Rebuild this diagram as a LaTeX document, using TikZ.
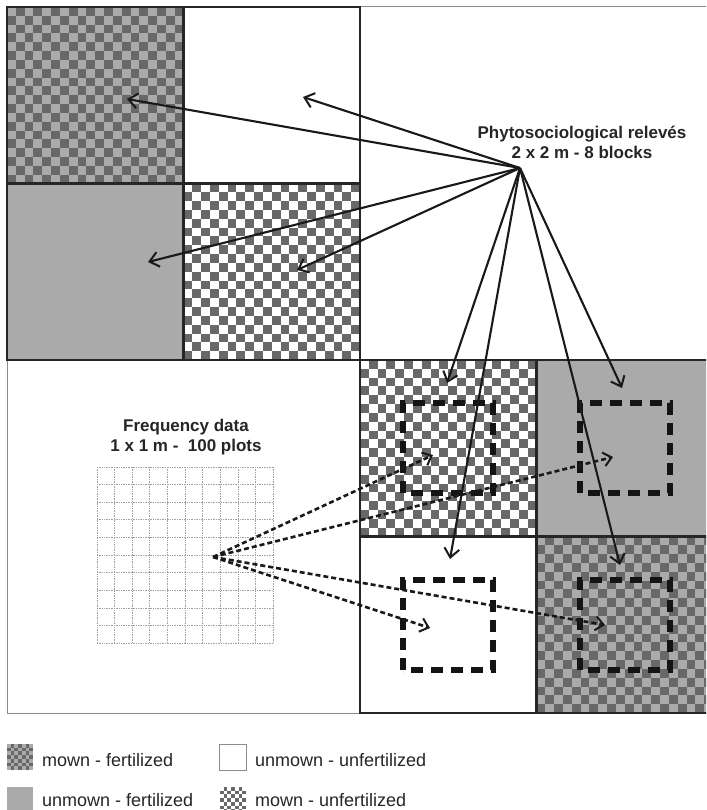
\documentclass[tikz,border=0pt]{standalone}
\usepackage{fontspec}
\setmainfont{Liberation Sans}
\usetikzlibrary{arrows.meta}
\definecolor{darkg}{HTML}{686868}
\definecolor{midg}{HTML}{AAAAAA}
\definecolor{frameg}{HTML}{8C8C8C}
\definecolor{gridg}{HTML}{A0A0A0}
\newcommand\mychk[6]{%
  \fill[#5] (#1,#2) rectangle ++(#3,#3);
  \pgfmathsetmacro\mycs{#3/#4}
  \pgfmathtruncatemacro\mynm{#4-1}
  \foreach \i in {0,...,\mynm}{\foreach \j in {0,...,\mynm}{%
    \pgfmathtruncatemacro\mycp{mod(\i+\j,2)}
    \ifnum\mycp=1 \fill[#6] ({#1+\i*\mycs},{#2+\j*\mycs}) rectangle ++(\mycs,\mycs);\fi
  }}%
}
\tikzset{
  thickline/.style={line width=2.7pt, draw=black!85},
  relarrow/.style={line width=2.1pt, draw=black!90, -{Straight Barb[length=9pt,width=15pt,line width=2pt]}},
  freqarrow/.style={line width=2.6pt, draw=black!90, dash pattern=on 5pt off 3pt, -{Straight Barb[length=8pt,width=14pt,line width=2pt]}},
  sq/.style={line width=5.5pt, draw=black!92, dash pattern=on 12pt off 8pt},
  gridline/.style={line width=1pt, draw=gridg, dash pattern=on 1pt off 0.7pt},
  boldtxt/.style={font=\fontsize{17}{20}\selectfont\bfseries, text=black!85, align=center, inner sep=0pt},
  legtxt/.style={font=\fontsize{18}{21}\selectfont, text=black!85, inner sep=0pt, anchor=base west}
}
\begin{document}
\begin{tikzpicture}[x=1pt,y=-1pt]
\useasboundingbox (0,0) rectangle (706,810);
\fill[white] (0,0) rectangle (706,810);
\begin{scope}
\clip (0,0) rectangle (706,810);
% top-left quadrant
\mychk{7}{7}{176.5}{20}{midg}{darkg}
\fill[midg] (7,183.5) rectangle (183.5,360);
\mychk{183.5}{183.5}{176.5}{20}{white}{darkg}
% bottom-right quadrant
\mychk{360}{360}{176.5}{20}{white}{darkg}
\fill[midg] (536.5,360) rectangle (713,536.5);
\mychk{536.5}{536.5}{176.5}{20}{midg}{darkg}
% outer frame
\draw[frameg, line width=1pt] (7,7) rectangle (713,713);
% thick block borders
\draw[thickline] (7,7) rectangle (360,360);
\draw[thickline] (183.5,7) -- (183.5,360);
\draw[thickline] (7,183.5) -- (360,183.5);
\draw[thickline] (360,360) rectangle (713,713);
\draw[thickline] (536.5,360) -- (536.5,713);
\draw[thickline] (360,536.5) -- (713,536.5);
% dashed relevé squares
\draw[sq] (403,493) rectangle (493,403);
\draw[sq] (580,493) rectangle (670,403);
\draw[sq] (403,670) rectangle (493,580);
\draw[sq] (580,670) rectangle (670,580);
% frequency grid
\foreach \k in {0,...,10}{
  \draw[gridline] ({97+\k*17.65},467) -- ({97+\k*17.65},643.5);
  \draw[gridline] (97,{467+\k*17.65}) -- (273.5,{467+\k*17.65});
}
% texts
\node[boldtxt] (reltxt) at (582,142) {Phytosociological relevés\\2 x 2 m - 8 blocks};
\node[boldtxt] (freqtxt) at (186,437.5) {Frequency data\\1 x 1 m -\ \ 100 plots};
% arrow coordinates
\coordinate (P) at (520,168);
\coordinate (t1) at (127,99);
\coordinate (t2) at (303,97);
\coordinate (t3) at (148,262);
\coordinate (t4) at (297,270);
\coordinate (t5) at (447,383);
\coordinate (t6) at (622,388);
\coordinate (t7) at (450,559);
\coordinate (t8) at (620,565);
\foreach \t in {t1,t2,t3,t4,t5,t6,t7,t8}{\draw[relarrow] (P) -- (\t);}
\coordinate (Q) at (213,557);
\coordinate (d1) at (433,455);
\coordinate (d2) at (613,457);
\coordinate (d3) at (430,628);
\coordinate (d4) at (605,625);
\foreach \d in {d1,d2,d3,d4}{\draw[freqarrow] (Q) -- (\d);}
% legend
\mychk{7}{744}{26}{7}{midg}{darkg}
\draw[frameg, line width=0.8pt, fill=white] (219.5,744) rectangle (246,770);
\fill[midg] (7,787) rectangle (33,813);
\mychk{220}{787}{26}{7}{white}{darkg}
\node[legtxt] (l1) at (42,766.5) {mown - fertilized};
\node[legtxt] (l2) at (255,766.5) {unmown - unfertilized};
\node[legtxt] (l3) at (42,806.5) {unmown - fertilized};
\node[legtxt] (l4) at (255,806.5) {mown - unfertilized};
\end{scope}
\end{tikzpicture}
\end{document}
